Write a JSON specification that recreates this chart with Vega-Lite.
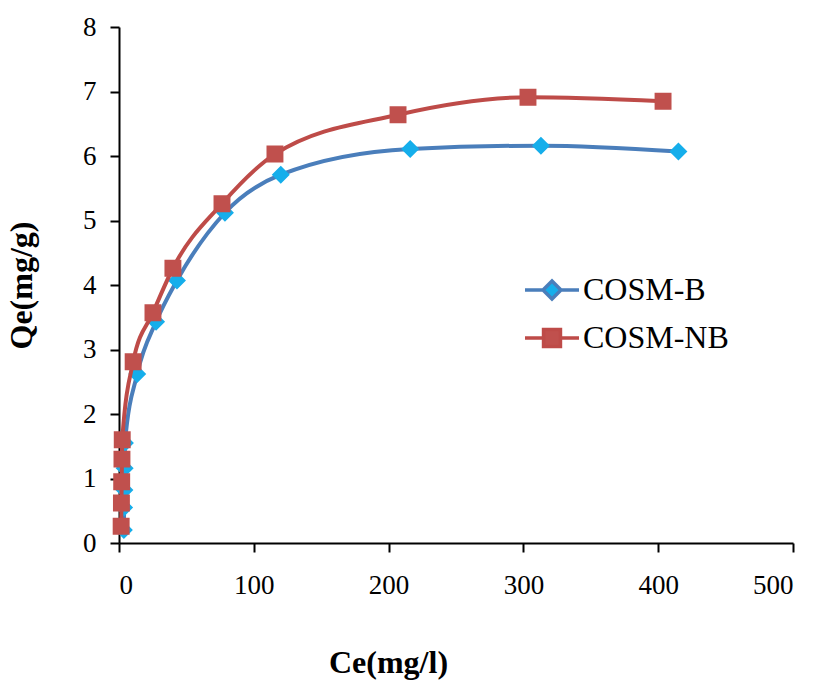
{
  "$schema": "https://vega.github.io/schema/vega-lite/v6.json",
  "width": 674,
  "height": 516,
  "autosize": {"type": "none"},
  "padding": {"left": 119, "top": 27, "right": 27, "bottom": 137},
  "background": "white",
  "config": {
    "view": {"stroke": null},
    "font": "Liberation Serif",
    "axis": {
      "grid": false,
      "domainColor": "black",
      "domainWidth": 2,
      "tickColor": "black",
      "tickWidth": 2,
      "tickSize": 9,
      "labelFont": "Liberation Serif",
      "labelFontSize": 27,
      "labelColor": "black",
      "titleFont": "Liberation Serif",
      "titleFontSize": 32,
      "titleFontWeight": "bold",
      "titleColor": "black"
    }
  },
  "data": {
    "values": [
      {"series": "COSM-B", "ce": 3.6, "qe": 0.2},
      {"series": "COSM-B", "ce": 3.8, "qe": 0.55},
      {"series": "COSM-B", "ce": 4.0, "qe": 0.82},
      {"series": "COSM-B", "ce": 4.2, "qe": 1.16},
      {"series": "COSM-B", "ce": 4.4, "qe": 1.55},
      {"series": "COSM-B", "ce": 13.5, "qe": 2.62},
      {"series": "COSM-B", "ce": 27.5, "qe": 3.43},
      {"series": "COSM-B", "ce": 43, "qe": 4.07},
      {"series": "COSM-B", "ce": 78.6, "qe": 5.12},
      {"series": "COSM-B", "ce": 120, "qe": 5.71},
      {"series": "COSM-B", "ce": 216, "qe": 6.11},
      {"series": "COSM-B", "ce": 313, "qe": 6.16},
      {"series": "COSM-B", "ce": 415, "qe": 6.07},
      {"series": "COSM-NB", "ce": 1.6, "qe": 0.26},
      {"series": "COSM-NB", "ce": 1.8, "qe": 0.62},
      {"series": "COSM-NB", "ce": 2.0, "qe": 0.95},
      {"series": "COSM-NB", "ce": 2.2, "qe": 1.3},
      {"series": "COSM-NB", "ce": 2.4, "qe": 1.6},
      {"series": "COSM-NB", "ce": 10.5, "qe": 2.81},
      {"series": "COSM-NB", "ce": 25.2, "qe": 3.57},
      {"series": "COSM-NB", "ce": 40, "qe": 4.26},
      {"series": "COSM-NB", "ce": 76.4, "qe": 5.26},
      {"series": "COSM-NB", "ce": 115.7, "qe": 6.03},
      {"series": "COSM-NB", "ce": 207, "qe": 6.64},
      {"series": "COSM-NB", "ce": 303.4, "qe": 6.91},
      {"series": "COSM-NB", "ce": 403.6, "qe": 6.85}
    ]
  },
  "encoding": {
    "x": {
      "field": "ce", "type": "quantitative",
      "scale": {"domain": [0, 500], "nice": false, "zero": true},
      "axis": {
        "values": [0, 100, 200, 300, 400, 500],
        "title": "Ce(mg/l)",
        "labelPadding": 20,
        "titleX": 269, "titleY": 119, "titleBaseline": "middle", "titleAnchor": "middle", "titleAlign": "center"
      }
    },
    "y": {
      "field": "qe", "type": "quantitative",
      "scale": {"domain": [0, 8], "nice": false},
      "axis": {
        "values": [0, 1, 2, 3, 4, 5, 6, 7, 8],
        "title": "Qe(mg/g)",
        "labelPadding": 14,
        "titleX": -98, "titleY": 258, "titleAngle": -90, "titleBaseline": "middle", "titleAlign": "center"
      }
    }
  },
  "layer": [
    {
      "transform": [{"filter": "datum.series === 'COSM-B'"}],
      "mark": {"type": "line", "interpolate": "monotone", "strokeWidth": 4},
      "encoding": {
        "stroke": {
          "field": "series", "type": "nominal",
          "scale": {"domain": ["COSM-B", "COSM-NB"], "range": ["#4A7EBB", "#BE4B48"]}
        }
      }
    },
    {
      "transform": [{"filter": "datum.series === 'COSM-B'"}],
      "mark": {"type": "point", "filled": true, "size": 324, "strokeWidth": 0, "opacity": 1},
      "encoding": {
        "fill": {
          "field": "series", "type": "nominal",
          "scale": {"domain": ["COSM-B", "COSM-NB"], "range": ["#15AEEB", "#C0504D"]},
          "legend": {
            "orient": "none",
            "legendX": 417,
            "legendY": 247,
            "padding": 0,
            "title": null,
            "labelFont": "Liberation Serif",
            "labelFontSize": 32,
            "labelColor": "black",
            "labelOffset": 15,
            "rowPadding": 16,
            "symbolSize": 324,
            "symbolStrokeWidth": 3.5,
            "symbolOpacity": 1
          }
        },
        "shape": {
          "field": "series", "type": "nominal",
          "scale": {
            "domain": ["COSM-B", "COSM-NB"],
            "range": [
              "M-3,0L-1,0M1,0L3,0M0,-1L1,0L0,1L-1,0Z",
              "M-3,0L-0.94,0M0.94,0L3,0M-0.94,-0.94L0.94,-0.94L0.94,0.94L-0.94,0.94Z"
            ]
          }
        }
      }
    },
    {
      "transform": [{"filter": "datum.series === 'COSM-NB'"}],
      "mark": {"type": "line", "interpolate": "monotone", "strokeWidth": 4},
      "encoding": {
        "stroke": {"field": "series", "type": "nominal"}
      }
    },
    {
      "transform": [{"filter": "datum.series === 'COSM-NB'"}],
      "mark": {"type": "point", "filled": true, "size": 324, "strokeWidth": 0, "opacity": 1},
      "encoding": {
        "fill": {"field": "series", "type": "nominal"},
        "shape": {"field": "series", "type": "nominal"}
      }
    }
  ]
}
